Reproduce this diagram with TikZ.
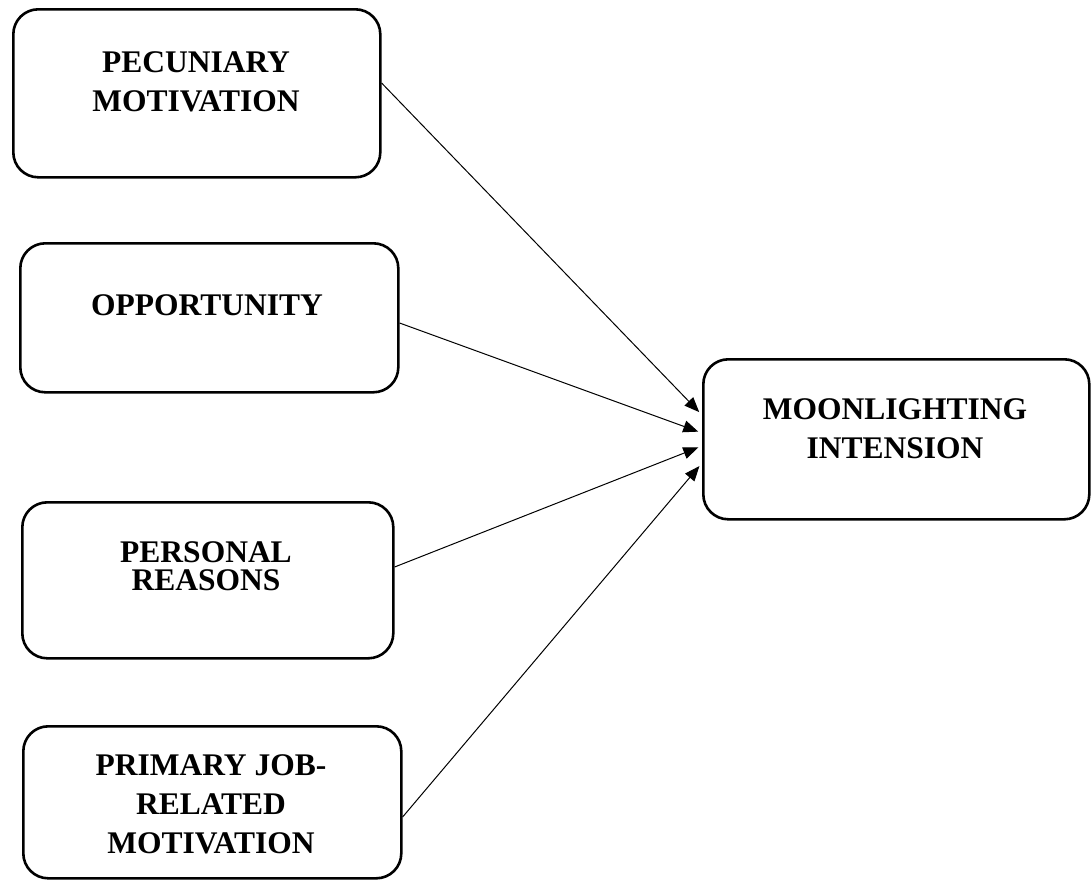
\documentclass[tikz,border=0pt]{standalone}
\usepackage{fontspec}
\setmainfont{Liberation Serif}
\usetikzlibrary{arrows.meta}
\begin{document}
\begin{tikzpicture}[x=1pt,y=-1pt,
  boxstyle/.style={draw, line width=2.6pt, rounded corners=25pt, rectangle, inner sep=0pt},
  lbl/.style={font=\fontsize{31.5}{39}\selectfont\bfseries, align=center, anchor=base, inner sep=0pt},
  arr/.style={line width=1pt, -{Triangle[length=15pt,width=12pt]}}]
\useasboundingbox (0,0) rectangle (1091,879);
% boxes
\node[boxstyle, minimum width=367pt, minimum height=168pt, anchor=north west] (p1) at (12,8) {};
\node[boxstyle, minimum width=378pt, minimum height=149pt, anchor=north west] (p2) at (19,242) {};
\node[boxstyle, minimum width=371pt, minimum height=156pt, anchor=north west] (p3) at (21,501) {};
\node[boxstyle, minimum width=378pt, minimum height=152pt, anchor=north west] (p4) at (22,725) {};
\node[boxstyle, minimum width=386pt, minimum height=160pt, anchor=north west] (m) at (702,358) {};
% texts (anchor base = baseline of the last line)
\node[lbl] (t1) at (196,111) {PECUNIARY\\MOTIVATION};
\node[lbl] (t2) at (207,315) {OPPORTUNITY};
\node[lbl, font=\fontsize{31.5}{28}\selectfont\bfseries] (t3) at (206,590) {PERSONAL\\REASONS};
\node[lbl] (t4) at (211,853) {PRIMARY JOB-\\RELATED\\MOTIVATION};
\node[lbl] (t5) at (895,458) {MOONLIGHTING\\INTENSION};
% connectors
\draw[arr, shorten >=4pt] (p1.east |- 0,83) -- (m.west |- 0,415);
\draw[arr, shorten >=4pt] (p2.east |- 0,323) -- (m.west |- 0,433);
\draw[arr, shorten >=4pt] (p3.east |- 0,567) -- (m.west |- 0,446);
\draw[arr, shorten >=4pt] (p4.east |- 0,817) -- (m.west |- 0,463);
\end{tikzpicture}
\end{document}
